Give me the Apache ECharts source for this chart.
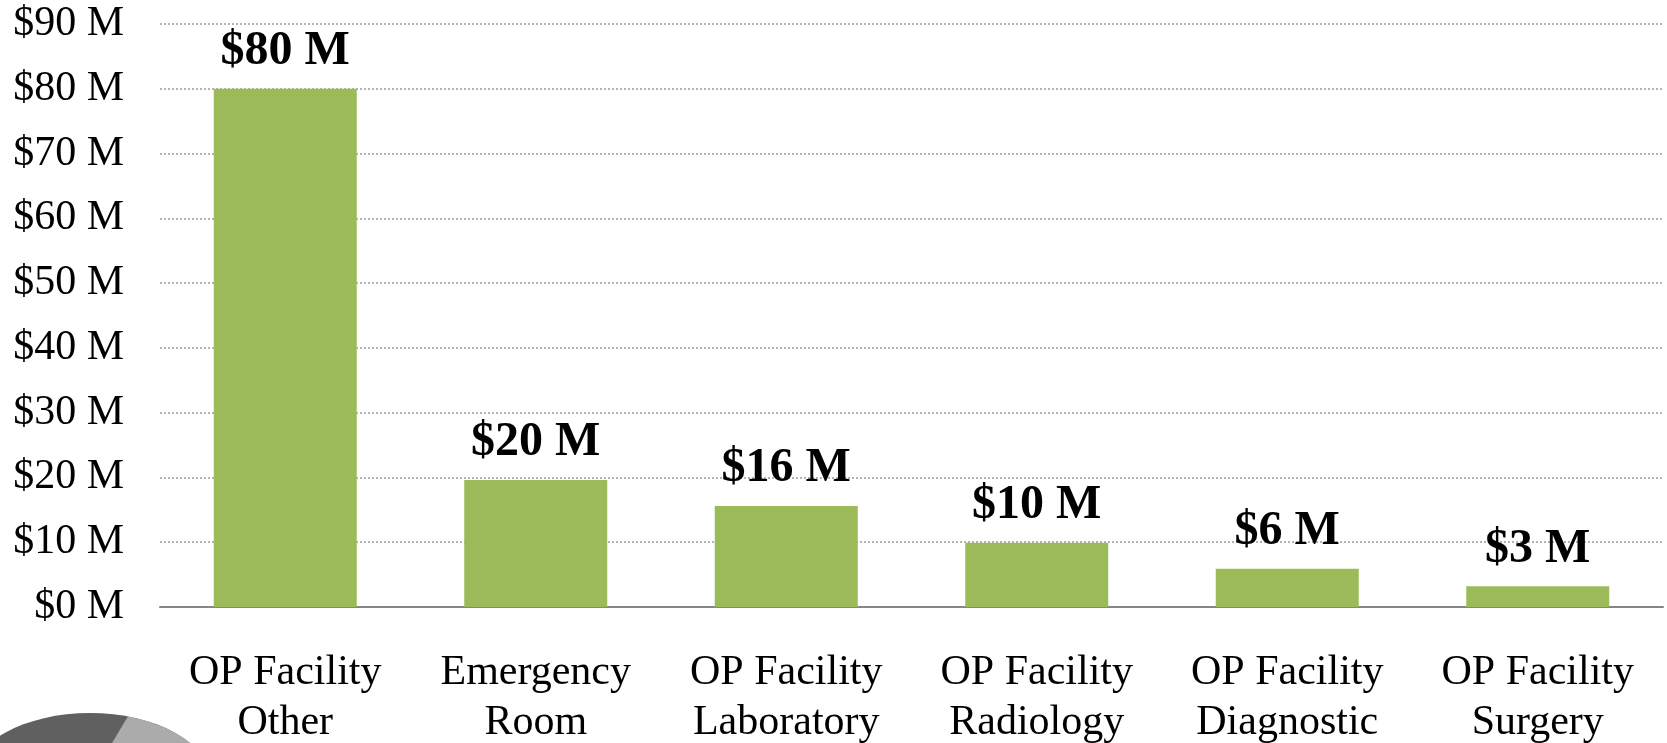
<!DOCTYPE html>
<html>
<head>
<meta charset="utf-8">
<style>
  html, body { margin: 0; padding: 0; background: #fff; }
  #chart { width: 1667px; height: 743px; }
</style>
<script src="https://cdn.jsdelivr.net/npm/echarts@6/dist/echarts.min.js"></script>
</head>
<body>
<div id="chart"></div>
<script>
// chart data
var categories = ['OP Facility\nOther', 'Emergency\nRoom', 'OP Facility\nLaboratory', 'OP Facility\nRadiology', 'OP Facility\nDiagnostic', 'OP Facility\nSurgery'];
var spending = [80, 19.6, 15.6, 9.9, 5.9, 3.2];
var valueLabels = ['$80 M', '$20 M', '$16 M', '$10 M', '$6 M', '$3 M'];

var font = '"Liberation Serif", "Times New Roman", serif';
var myChart = echarts.init(document.getElementById('chart'));

var option = {
  animation: false,
  grid: {
    left: 160,
    right: 4,
    top: 24,
    bottom: 136,
    outerBoundsMode: 'none'
  },
  xAxis: {
    type: 'category',
    data: categories,
    axisLine: { lineStyle: { color: '#868686', width: 2 } },
    axisTick: { show: false },
    axisLabel: {
      margin: 41,
      fontFamily: font,
      fontSize: 42,
      lineHeight: 50,
      color: '#000'
    }
  },
  yAxis: {
    type: 'value',
    min: 0,
    max: 90,
    interval: 10,
    axisLine: { show: false },
    axisTick: { show: false },
    axisLabel: {
      margin: 36,
      padding: [6, 0, 0, 0],
      fontFamily: font,
      fontSize: 42,
      color: '#000',
      formatter: function (v) { return '$' + v + ' M'; }
    },
    splitLine: {
      lineStyle: { color: '#9a9a9a', type: [2, 2], width: 1.5 }
    }
  },
  series: [{
    type: 'bar',
    data: spending,
    barWidth: 143,
    itemStyle: { color: '#9BBB59' },
    label: {
      show: true,
      position: 'top',
      distance: 13,
      fontFamily: font,
      fontSize: 48,
      fontWeight: 'bold',
      color: '#000',
      formatter: function (p) { return valueLabels[p.dataIndex]; }
    }
  }],
  // decorative grey pie at the lower left of the slide
  graphic: [{
    type: 'group',
    x: 90,
    y: 780,
    scaleY: 0.558,
    silent: true,
    children: [
      { type: 'circle', shape: { cx: 0, cy: 0, r: 120 }, style: { fill: '#606060' } },
      { type: 'sector', shape: { cx: 0, cy: 0, r: 120, startAngle: -1.25, endAngle: 0.6 }, style: { fill: '#ababab' } }
    ]
  }]
};

myChart.setOption(option);
</script>
</body>
</html>
